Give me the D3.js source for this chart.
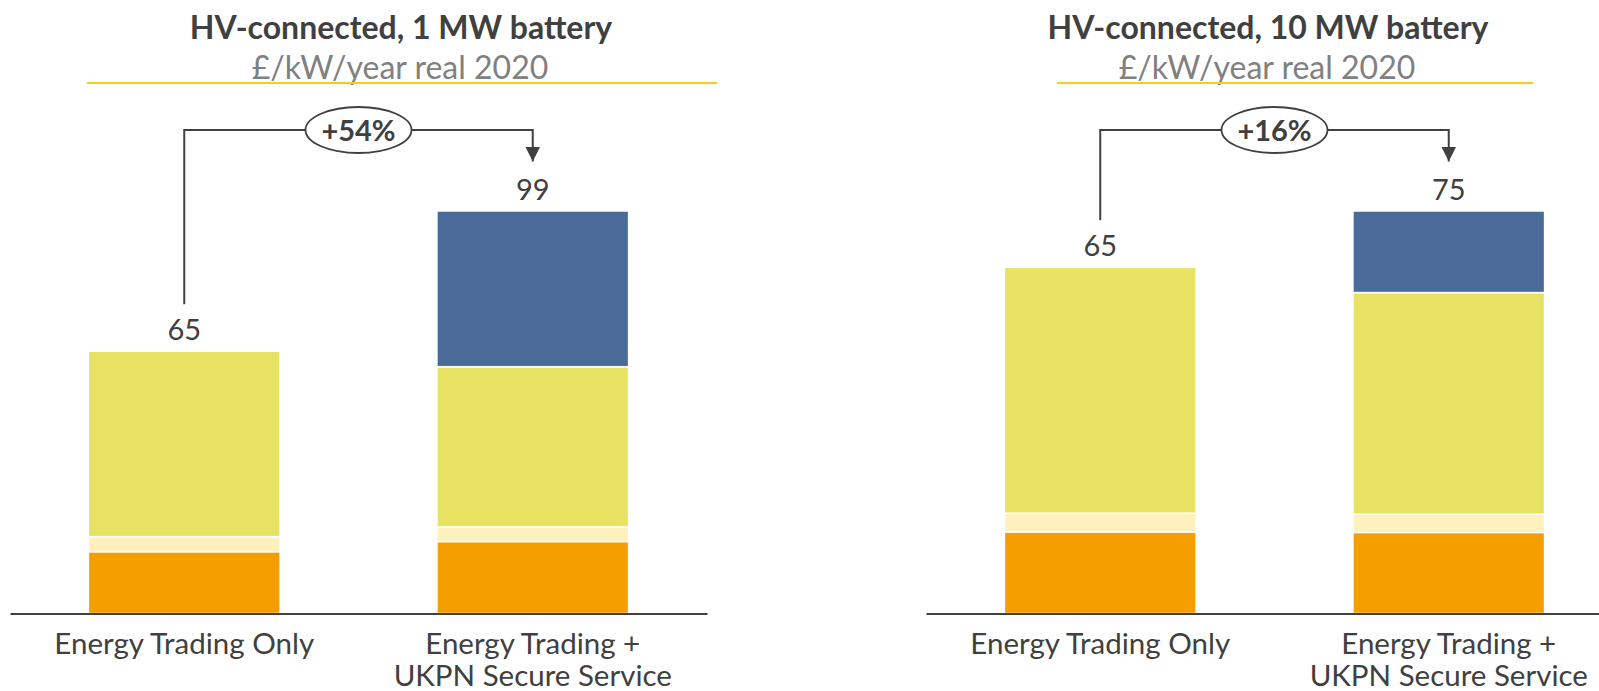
<!DOCTYPE html>
<html>
<head>
<meta charset="utf-8">
<script src="https://cdn.jsdelivr.net/npm/d3@7/dist/d3.min.js"></script>
<style>
  html, body { margin: 0; padding: 0; background: #ffffff; }
  svg { display: block; font-family: Lato, "Open Sans", sans-serif; }
</style>
</head>
<body>
<svg id="chart" width="1599" height="691"></svg>
<script>
// ---------- data ----------
const panelTitles = ["HV-connected, 1 MW battery", "HV-connected, 10 MW battery"];
const panelSubtitle = "£/kW/year real 2020";
const categories = ["Energy Trading Only", "Energy Trading +\nUKPN Secure Service"];
const seriesNames = ["Capacity Market", "Other Revenues", "Energy Trading", "UKPN Secure Service"];
// values per panel: [category][series]
const values1MW = [
  [15.2, 3.7, 45.6, 0],
  [17.7, 3.6, 39.4, 38.3]
];
const values10MW = [
  [15.2, 3.5, 45.8, 0],
  [15.1, 3.4, 41.3, 15.2]
];
const totalLabels1MW = ["65", "99"];
const totalLabels10MW = ["65", "75"];
const changeLabels = ["+54%", "+16%"];

// ---------- styles ----------
const colors = ["#F59E00", "#FFF1BE", "#E8E263", "#4A6B9A"];
const textDark = "#404040";
const textGrey = "#808080";

const svg = d3.select("#chart");
const defs = svg.append("defs");
defs.append("marker")
  .attr("id", "arrow")
  .attr("viewBox", "0 0 10 10")
  .attr("refX", 10).attr("refY", 5)
  .attr("markerUnits", "userSpaceOnUse")
  .attr("markerWidth", 15).attr("markerHeight", 15)
  .attr("orient", "auto")
  .append("path").attr("d", "M0,0 L10,5 L0,10 Z").attr("fill", textDark);

const panels = [
  { values: values1MW, totals: totalLabels1MW, change: changeLabels[0], title: panelTitles[0],
    x0: 10, x1: 707, titleX: 401, lineX0: 87, lineX1: 717, subX: 400 },
  { values: values10MW, totals: totalLabels10MW, change: changeLabels[1], title: panelTitles[1],
    x0: 926, x1: 1623, titleX: 1268, lineX0: 1057, lineX1: 1533, subX: 1267 }
];

const baseY = 613.5, topY = 211;

panels.forEach(p => {
  const g = svg.append("g");
  // titles
  g.append("text").attr("x", p.titleX).attr("y", 39)
    .attr("text-anchor", "middle").attr("font-size", 32).attr("font-weight", 700)
    .attr("fill", textDark).text(p.title);
  g.append("text").attr("x", p.subX).attr("y", 78.5)
    .attr("text-anchor", "middle").attr("font-size", 32)
    .attr("fill", textGrey).text(panelSubtitle);
  g.append("line").attr("x1", p.lineX0).attr("x2", p.lineX1)
    .attr("y1", 83).attr("y2", 83)
    .attr("stroke", "#F3CD1F").attr("stroke-width", 2);

  const x = d3.scaleBand().domain(categories).range([p.x0, p.x1])
    .paddingInner(0.45).paddingOuter(0.225);
  const totals = p.values.map(v => d3.sum(v));
  const y = d3.scaleLinear().domain([0, d3.max(totals)]).range([baseY, topY]);

  const stackData = categories.map((c, i) => {
    const o = { cat: c };
    seriesNames.forEach((s, j) => o[s] = p.values[i][j]);
    return o;
  });
  const stacked = d3.stack().keys(seriesNames)(stackData);

  g.selectAll("g.series").data(stacked).join("g")
    .attr("fill", (d, i) => colors[i])
    .selectAll("rect").data(d => d.filter(e => e[1] - e[0] > 0)).join("rect")
    .attr("x", d => x(d.data.cat))
    .attr("width", x.bandwidth())
    .attr("y", d => y(d[1]))
    .attr("height", d => y(d[0]) - y(d[1]))
    .attr("stroke", "#ffffff").attr("stroke-width", 1.5);

  // axis baseline
  const axis = d3.axisBottom(x).tickSize(0).tickFormat("");
  const ax = g.append("g").attr("transform", `translate(0,${baseY})`).call(axis);
  ax.select(".domain").attr("stroke", textDark).attr("stroke-width", 2.2);

  // category labels
  categories.forEach(c => {
    const lines = c.split("\n");
    const t = g.append("text").attr("text-anchor", "middle")
      .attr("font-size", 29.5).attr("fill", textDark);
    lines.forEach((ln, k) => {
      t.append("tspan").attr("x", x(c) + x.bandwidth() / 2)
        .attr("y", 653.5 + k * 32.3).text(ln);
    });
  });

  // total labels
  categories.forEach((c, i) => {
    g.append("text").attr("x", x(c) + x.bandwidth() / 2)
      .attr("y", y(totals[i]) - 11)
      .attr("text-anchor", "middle").attr("font-size", 29)
      .attr("fill", textDark).text(p.totals[i]);
  });

  // bracket annotation
  const cx0 = x(categories[0]) + x.bandwidth() / 2;
  const cx1 = x(categories[1]) + x.bandwidth() / 2;
  const hy = 130;
  g.append("path")
    .attr("d", `M${cx0},${y(totals[0]) - 47} L${cx0},${hy} L${cx1},${hy} L${cx1},${161.5}`)
    .attr("fill", "none").attr("stroke", textDark).attr("stroke-width", 2)
    .attr("marker-end", "url(#arrow)");
  const mx = (cx0 + cx1) / 2;
  g.append("ellipse").attr("cx", mx).attr("cy", hy).attr("rx", 53).attr("ry", 23)
    .attr("fill", "#ffffff").attr("stroke", textDark).attr("stroke-width", 1.8);
  g.append("text").attr("x", mx).attr("y", hy + 10.5)
    .attr("text-anchor", "middle").attr("font-size", 29).attr("font-weight", 700)
    .attr("fill", textDark).text(p.change);
});
</script>
</body>
</html>
